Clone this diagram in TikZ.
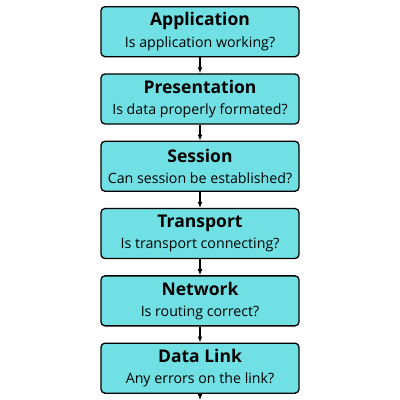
\documentclass[tikz,border=0pt]{standalone}
\usepackage{fontspec}
\setmainfont{Open Sans}
\usetikzlibrary{positioning,arrows.meta}
\definecolor{layerfill}{RGB}{112,224,228}
\newcommand{\layertitle}[1]{{\fontsize{17.5}{22}\selectfont\bfseries #1}}

\begin{document}
\begin{tikzpicture}[
    x=1pt, y=1pt,
    node distance=16pt,
    >={Latex[length=6pt,width=5pt]},
    layer/.style={draw, rectangle, rounded corners=4pt, fill=layerfill, line width=1.3pt,
        minimum width=198pt, minimum height=50pt, align=center, inner sep=0pt,
        font=\fontsize{14.2}{21.5}\selectfont},
    connector/.style={->, line width=1.4pt}
]
    \useasboundingbox (0,0) rectangle (400,-400);

    \node [layer, anchor=north] (app) at (200,-6) {\layertitle{Application}\\Is application working?};
    \node [layer, below=of app] (pres) {\layertitle{Presentation}\\Is data properly formated?};
    \node [layer, below=of pres] (sess) {\layertitle{Session}\\Can session be established?};
    \node [layer, below=of sess] (trans) {\layertitle{Transport}\\Is transport connecting?};
    \node [layer, below=of trans] (net) {\layertitle{Network}\\Is routing correct?};
    \node [layer, below=of net] (link) {\layertitle{Data Link}\\Any errors on the link?};
    \coordinate (phys) at (200,-400);

    \draw [connector] (app) -- (pres);
    \draw [connector] (pres) -- (sess);
    \draw [connector] (sess) -- (trans);
    \draw [connector] (trans) -- (net);
    \draw [connector] (net) -- (link);
    \draw [connector] (link) -- (phys);

\end{tikzpicture}
\end{document}
